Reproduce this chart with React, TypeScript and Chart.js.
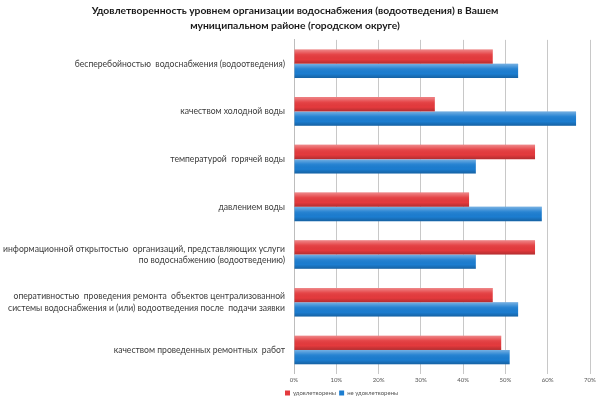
import React, { useEffect, useRef } from "react";
import { Chart, registerables } from "chart.js";

Chart.register(...registerables);

const titleLines = [
  "Удовлетворенность уровнем организации водоснабжения (водоотведения) в Вашем",
  "муниципальном районе (городском округе)",
];

const categories: (string | string[])[] = [
  "бесперебойностью  водоснабжения (водоотведения)",
  "качеством холодной воды",
  "температурой  горячей воды",
  "давлением воды",
  [
    "информационной открытостью  организаций, представляющих услуги",
    "по водоснабжению (водоотведению)",
  ],
  [
    "оперативностью  проведения ремонта  объектов централизованной",
    "системы водоснабжения и (или) водоотведения после  подачи заявки",
  ],
  "качеством проведенных ремонтных  работ",
];

const satisfied = [47, 33.3, 57, 41.4, 57, 47, 49];
const notSatisfied = [53, 66.7, 43, 58.6, 43, 53, 51];

const seriesNames = ["удовлетворены", "не удовлетворены"];
const xTicks = [0, 10, 20, 30, 40, 50, 60, 70];

const shadePlugin = {
  id: "shade",
  afterLayout(chart: any) {
    if (chart.legend) {
      chart.legend.left -= 12;
      chart.legend.right -= 12;
    }
  },
  afterDatasetsDraw(chart: any) {
    const ctx = chart.ctx;
    chart.data.datasets.forEach((_: any, di: number) => {
      const meta = chart.getDatasetMeta(di);
      meta.data.forEach((el: any) => {
        const { x, y, base, height } = el.getProps(["x", "y", "base", "height"], true);
        const top = y - height / 2;
        const g = ctx.createLinearGradient(0, top, 0, top + height);
        g.addColorStop(0, "rgba(255,255,255,0.4)");
        g.addColorStop(0.35, "rgba(255,255,255,0.06)");
        g.addColorStop(0.7, "rgba(0,0,0,0)");
        g.addColorStop(1, "rgba(0,0,0,0.22)");
        ctx.save();
        ctx.fillStyle = g;
        ctx.fillRect(Math.min(base, x), top, Math.abs(x - base), height);
        ctx.restore();
      });
    });
  },
};

export default function App() {
  const ref = useRef<HTMLCanvasElement>(null);
  useEffect(() => {
    document.body.style.margin = "0";
    const chart = new Chart(ref.current!, {
      type: "bar",
      data: {
        labels: categories,
        datasets: [
          {
            label: seriesNames[0],
            data: satisfied,
            backgroundColor: "#e43a3d",
            borderWidth: 0,
            categoryPercentage: 0.6,
            barPercentage: 1,
          },
          {
            label: seriesNames[1],
            data: notSatisfied,
            backgroundColor: "#1c7dd0",
            borderWidth: 0,
            categoryPercentage: 0.6,
            barPercentage: 1,
          },
        ],
      },
      options: {
        indexAxis: "y",
        animation: false,
        responsive: false,
        layout: { padding: { left: 0, right: 10, top: 0, bottom: -7 } },
        plugins: {
          title: {
            display: true,
            text: titleLines,
            font: { family: "Lato", size: 10.3, weight: "bold", lineHeight: 1.45 },
            color: "#1a1a1a",
            padding: { top: 3, bottom: 7 },
          },
          legend: {
            position: "bottom",
            align: "start",
            fullSize: false,
            labels: {
              boxWidth: 5,
              boxHeight: 5,
              padding: 3,
              font: { family: "Lato", size: 6 },
              color: "#555",
            },
          },
          tooltip: { enabled: false },
        },
        scales: {
          x: {
            min: 0,
            max: 70,
            afterBuildTicks(axis: any) {
              axis.ticks = xTicks.map((v) => ({ value: v }));
            },
            ticks: {
              callback: (v: any) => v + "%",
              font: { family: "Lato", size: 6 },
              color: "#555",
              padding: 3,
            },
            grid: { color: "#c8c8c8", drawTicks: false, lineWidth: 1 },
            border: { display: false },
          },
          y: {
            afterFit(axis: any) {
              axis.width = 294;
            },
            ticks: {
              font: { family: "Lato", size: 8.6, lineHeight: 1.3 },
              color: "#3a3a3a",
              padding: 1,
            },
            grid: { display: false },
            border: { display: true, color: "#bdbdbd" },
          },
        },
      },
      plugins: [shadePlugin],
    });
    return () => chart.destroy();
  }, []);
  return <canvas ref={ref} width={600} height={399} style={{ display: "block" }} />;
}
